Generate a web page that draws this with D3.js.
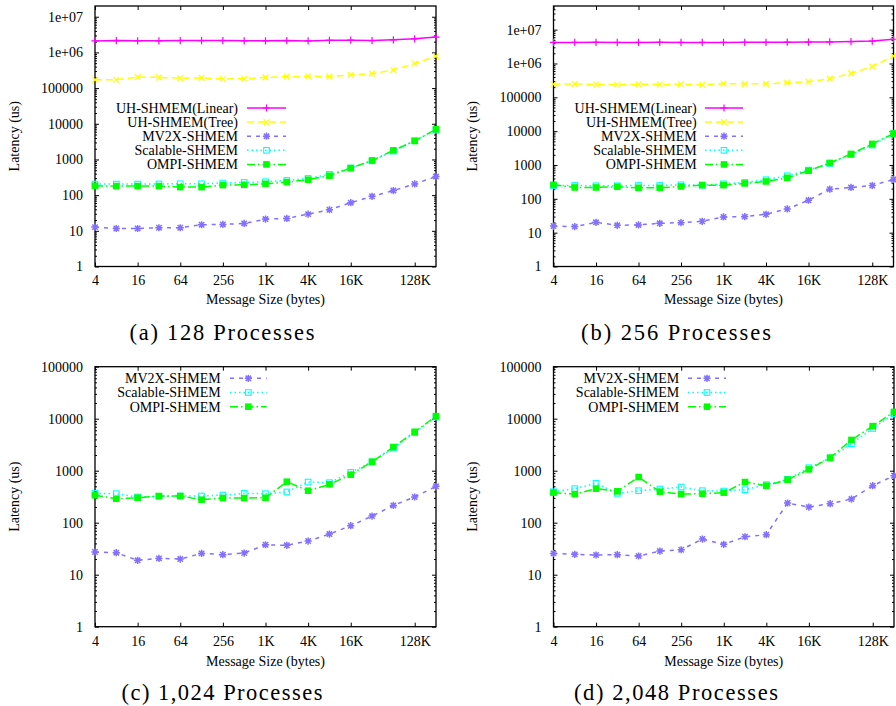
<!DOCTYPE html>
<html><head><meta charset="utf-8">
<script src="https://cdn.jsdelivr.net/npm/d3@7"></script>
<style>body{margin:0;background:#fff} svg{display:block}</style>
</head><body>
<svg id="chart" width="896" height="706"></svg>
<script>
// ---------------- DATA ----------------
const messageSizes = [4,8,16,32,64,128,256,512,1024,2048,4096,8192,16384,32768,65536,131072,262144];
const xTickValues = [4,16,64,256,1024,4096,16384,131072];
const xTickLabels = ["4","16","64","256","1K","4K","16K","128K"];
const yTickValuesWide = [1,10,100,1000,10000,100000,1e6,1e7];
const yTickLabelsWide = ["1","10","100","1000","10000","100000","1e+06","1e+07"];
const yTickValuesNarrow = [1,10,100,1000,10000,100000];
const yTickLabelsNarrow = ["1","10","100","1000","10000","100000"];
const seriesNames = ["UH-SHMEM(Linear)","UH-SHMEM(Tree)","MV2X-SHMEM","Scalable-SHMEM","OMPI-SHMEM"];
const captions = ["(a) 128 Processes","(b) 256 Processes","(c) 1,024 Processes","(d) 2,048 Processes"];
const xTitle = "Message Size (bytes)";
const yTitle = "Latency (us)";

const p128Linear   = [2.1e6,2.15e6,2.12e6,2.12e6,2.15e6,2.15e6,2.15e6,2.12e6,2.12e6,2.15e6,2.1e6,2.18e6,2.2e6,2.15e6,2.25e6,2.4e6,2.7e6];
const p128Tree     = [1.72e5,1.72e5,2.04e5,2.0e5,1.9e5,1.93e5,1.8e5,1.83e5,2.0e5,2.1e5,2.15e5,2.1e5,2.33e5,2.54e5,3.2e5,4.9e5,7.8e5];
const p128Mv2x     = [12.7,11.6,11.6,12.2,12.2,14.8,15.1,16.1,21.3,22.2,29.4,39,61.4,92.5,134,206,331];
const p128Scalable = [204,204,204,206,208,208,218,227,237,258,294,382,574,918,1720,3350,6700];
const p128Ompi     = [183,179,179,179,168,168,191,195,208,232,270,350,574,936,1800,3300,7000];

const p256Linear   = [4.2e6,4.2e6,4.22e6,4.2e6,4.2e6,4.22e6,4.18e6,4.2e6,4.2e6,4.22e6,4.22e6,4.25e6,4.28e6,4.35e6,4.45e6,4.6e6,5.2e6];
const p256Tree     = [2.44e5,2.5e5,2.4e5,2.35e5,2.44e5,2.4e5,2.44e5,2.35e5,2.54e5,2.5e5,2.5e5,2.72e5,2.9e5,3.57e5,5.1e5,8.1e5,1.65e6];
const p256Mv2x     = [15.7,15.1,20.2,16.5,16.9,18.9,19.8,21.7,29.1,29.8,34.9,50.2,90.7,193,217,248,374];
const p256Scalable = [248,248,243,243,248,248,260,254,278,305,366,480,705,1120,2020,3900,8300];
const p256Ompi     = [260,217,217,227,212,212,232,254,254,285,326,418,675,1150,2120,4200,8500];

const p1024Mv2x     = [27.3,26.5,18.9,20.6,20,25.7,24.3,26.1,37.7,36.7,44.4,60.5,87.5,134,215,312,500];
const p1024Scalable = [367,361,312,321,326,326,340,367,361,390,605,588,929,1470,2730,5370,10800];
const p1024Ompi     = [336,289,302,326,326,277,298,298,302,614,412,546,838,1490,2850,5600,11200];

const p2048Mv2x     = [25.7,24.6,23.9,24.3,22.9,28.5,30.2,48.5,38.3,53.7,58.8,239,200,232,285,515,801];
const p2048Scalable = [394,451,571,367,412,444,485,412,406,431,538,681,1140,1750,3300,6500,12500];
const p2048Ompi     = [378,355,451,401,755,394,355,361,378,605,515,671,1060,1780,3900,7200,13500];

// ---------------- STYLES / LAYOUT ----------------
const FONT = "'Liberation Serif','Times New Roman',serif";
const styles = [
  {color:"#ff00ff", dash:null,        marker:"plus"},
  {color:"#ffff00", dash:"7,4",       marker:"cross"},
  {color:"#8470ff", dash:"4,5",       marker:"star"},
  {color:"#00ffff", dash:"1.5,3",     marker:"openSquare"},
  {color:"#00ff00", dash:"8,3,1.5,3", marker:"filledSquare"}
];

const panels = [
  {x0:95, x1:436, y0:6, y1:266.5, yMax:2e7, yTicks:yTickValuesWide, yLabels:yTickLabelsWide,
   series:[p128Linear,p128Tree,p128Mv2x,p128Scalable,p128Ompi], sIdx:[0,1,2,3,4],
   legend:{tx:238, lx0:247, lx1:286, ry:108, gap:14.1},
   cap:{text:captions[0], x:222, y:340, len:185}, xLabY:285, xTitleY:304, yTitleX:14},
  {x0:553.5, x1:893.5, y0:6, y1:266.5, yMax:5e7, yTicks:yTickValuesWide, yLabels:yTickLabelsWide,
   series:[p256Linear,p256Tree,p256Mv2x,p256Scalable,p256Ompi], sIdx:[0,1,2,3,4],
   legend:{tx:696.7, lx0:705, lx1:743, ry:108, gap:14.1},
   cap:{text:captions[1], x:676, y:340, len:190}, xLabY:285, xTitleY:304, yTitleX:472},
  {x0:95, x1:436, y0:366.7, y1:626.7, yMax:1e5, yTicks:yTickValuesNarrow, yLabels:yTickLabelsNarrow,
   series:[p1024Mv2x,p1024Scalable,p1024Ompi], sIdx:[2,3,4],
   legend:{tx:220.7, lx0:230, lx1:266.7, ry:378.3, gap:14.2},
   cap:{text:captions[2], x:222, y:700, len:201}, xLabY:646, xTitleY:666, yTitleX:14},
  {x0:553.5, x1:894, y0:366.7, y1:626.7, yMax:1e5, yTicks:yTickValuesNarrow, yLabels:yTickLabelsNarrow,
   series:[p2048Mv2x,p2048Scalable,p2048Ompi], sIdx:[2,3,4],
   legend:{tx:679.3, lx0:688, lx1:726, ry:378.3, gap:14.2},
   cap:{text:captions[3], x:676, y:700, len:204}, xLabY:646, xTitleY:666, yTitleX:472}
];

const svg = d3.select("#chart");

function markerPath(type, s) {
  if (type === "plus") return `M${-s},0H${s}M0,${-s}V${s}`;
  if (type === "cross") { const c = s*0.8; return `M${-c},${-c}L${c},${c}M${-c},${c}L${c},${-c}`; }
  if (type === "star") { const c = s*0.75; return `M${-s},0H${s}M0,${-s}V${s}M${-c},${-c}L${c},${c}M${-c},${c}L${c},${-c}`; }
  return null;
}
function drawMarker(g, type, color, x, y) {
  if (type === "openSquare") {
    g.append("rect").attr("x", x-2.8).attr("y", y-2.8).attr("width", 5.6).attr("height", 5.6)
      .attr("fill", "none").attr("stroke", color).attr("stroke-width", 1.1);
  } else if (type === "filledSquare") {
    g.append("rect").attr("x", x-3.3).attr("y", y-3.3).attr("width", 6.6).attr("height", 6.6)
      .attr("fill", color);
  } else {
    g.append("path").attr("d", markerPath(type, 3.6)).attr("transform", `translate(${x},${y})`)
      .attr("fill", "none").attr("stroke", color).attr("stroke-width", type === "star" ? 1.5 : 1.2);
  }
}

panels.forEach(p => {
  const x = d3.scaleLog().base(2).domain([4, 262144]).range([p.x0, p.x1]);
  const y = d3.scaleLog().domain([1, p.yMax]).range([p.y1, p.y0]);
  const g = svg.append("g");

  const minor = [];
  for (let d = 1; d < p.yMax; d *= 10) for (let k = 2; k <= 9; k++) if (k*d < p.yMax) minor.push(k*d);

  const left = d3.axisLeft(y).tickValues(p.yTicks).tickFormat((d,i) => p.yLabels[i]).tickSizeInner(-4).tickSizeOuter(0).tickPadding(12);
  const right = d3.axisRight(y).tickValues(p.yTicks).tickFormat("").tickSizeInner(-4).tickSizeOuter(0);
  const leftMinor = d3.axisLeft(y).tickValues(minor).tickFormat("").tickSizeInner(-2).tickSizeOuter(0);
  const rightMinor = d3.axisRight(y).tickValues(minor).tickFormat("").tickSizeInner(-2).tickSizeOuter(0);
  const bottom = d3.axisBottom(x).tickValues(xTickValues).tickFormat((d,i) => xTickLabels[i]).tickSizeInner(-4).tickSizeOuter(0).tickPadding(0);
  const top = d3.axisTop(x).tickValues(xTickValues).tickFormat("").tickSizeInner(-4).tickSizeOuter(0);

  const ax = [
    g.append("g").attr("transform", `translate(${p.x0},0)`).call(left),
    g.append("g").attr("transform", `translate(${p.x1},0)`).call(right),
    g.append("g").attr("transform", `translate(${p.x0},0)`).call(leftMinor),
    g.append("g").attr("transform", `translate(${p.x1},0)`).call(rightMinor),
    g.append("g").attr("transform", `translate(0,${p.y1})`).call(bottom),
    g.append("g").attr("transform", `translate(0,${p.y0})`).call(top)
  ];
  ax.forEach(a => {
    a.select(".domain").remove();
    a.selectAll("line").attr("stroke", "#000").attr("stroke-width", 1);
    a.selectAll("text").attr("font-family", FONT).attr("font-size", 14).attr("fill", "#000");
  });
  ax[4].selectAll("text").attr("dy", null).attr("y", p.xLabY - p.y1);

  g.append("rect").attr("x", p.x0).attr("y", p.y0).attr("width", p.x1 - p.x0).attr("height", p.y1 - p.y0)
    .attr("fill", "none").attr("stroke", "#000").attr("stroke-width", 1.3);

  p.series.forEach((vals, j) => {
    const st = styles[p.sIdx[j]];
    const pts = messageSizes.map((m, i) => [x(m), y(vals[i])]);
    g.append("path").attr("d", d3.line()(pts)).attr("fill", "none").attr("stroke", st.color)
      .attr("stroke-width", 1.5).attr("stroke-dasharray", st.dash);
    const mg = g.append("g");
    pts.forEach(pt => drawMarker(mg, st.marker, st.color, pt[0], pt[1]));
  });

  p.sIdx.forEach((si, j) => {
    const st = styles[si];
    const ly = p.legend.ry + j * p.legend.gap;
    g.append("text").attr("x", p.legend.tx).attr("y", ly).attr("dy", "0.35em").attr("text-anchor", "end")
      .attr("font-family", FONT).attr("font-size", 14).text(seriesNames[si]);
    g.append("line").attr("x1", p.legend.lx0).attr("x2", p.legend.lx1).attr("y1", ly).attr("y2", ly)
      .attr("stroke", st.color).attr("stroke-width", 1.5).attr("stroke-dasharray", st.dash);
    drawMarker(g, st.marker, st.color, (p.legend.lx0 + p.legend.lx1) / 2, ly);
  });

  g.append("text").attr("x", (p.x0 + p.x1) / 2).attr("y", p.xTitleY).attr("text-anchor", "middle")
    .attr("font-family", FONT).attr("font-size", 14).text(xTitle);
  g.append("text").attr("transform", `translate(${p.yTitleX},${(p.y0 + p.y1) / 2}) rotate(-90)`)
    .attr("text-anchor", "middle").attr("dy", "0.35em").attr("font-family", FONT).attr("font-size", 14).text(yTitle);

  g.append("text").attr("x", p.cap.x).attr("y", p.cap.y).attr("text-anchor", "middle")
    .attr("font-family", FONT).attr("font-size", 22.5).attr("textLength", p.cap.len).attr("lengthAdjust", "spacing")
    .text(p.cap.text);
});
</script>
</body></html>
